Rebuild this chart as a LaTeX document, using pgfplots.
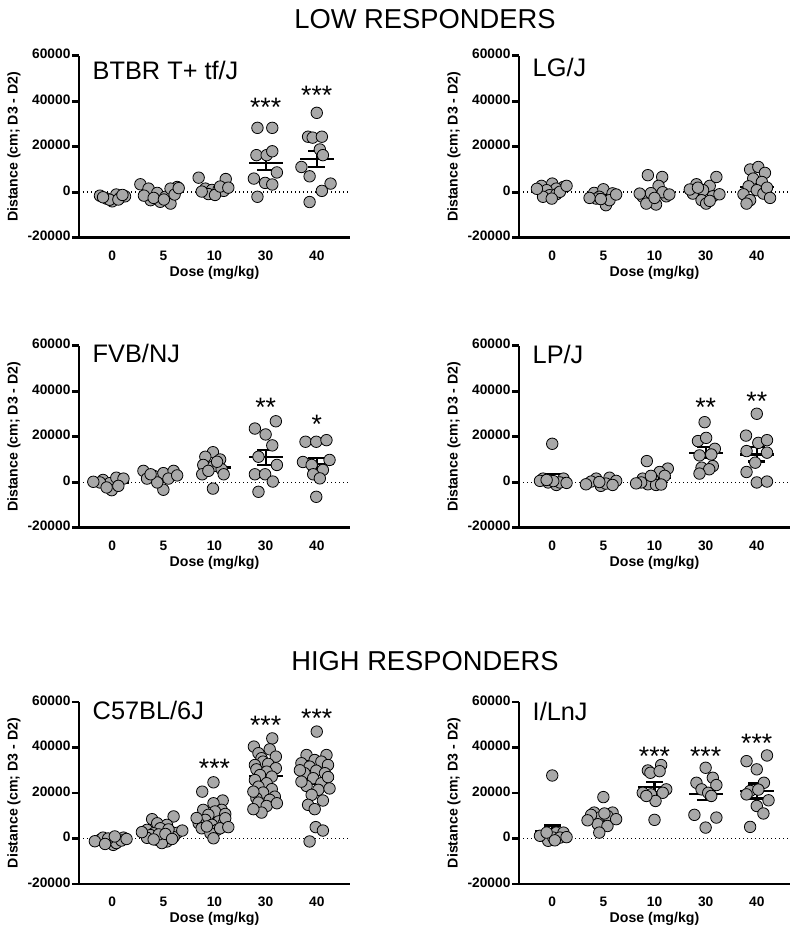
\documentclass[border=0pt]{standalone}
\usepackage{pgfplots}
\usepackage{pgfplotstable}
\pgfplotsset{compat=1.18}
\usepackage{fontspec}
\setmainfont{Liberation Sans}
\definecolor{ptgray}{RGB}{168,168,168}
\pgfplotsset{
  panel/.style={
    scale only axis, width=203.25pt, height=136.5pt,
    xmin=-0.65, xmax=4.65, ymin=-20000, ymax=60000,
    axis x line*=bottom, axis y line*=left,
    axis line style={line width=2pt},
    scaled y ticks=false,
    xtick={0,1,2,3,4}, xticklabels={0,5,10,30,40},
    ytick={-20000,0,20000,40000,60000}, yticklabels={-20000,0,20000,40000,60000},
    major tick length=5.25pt, tick align=outside,
    y tick style={line width=2pt, black},
    x tick style={draw=none},
    typeset ticklabels with strut,
    xticklabel style={font=\fontsize{10.3}{12}\selectfont\bfseries},
    yticklabel style={font=\fontsize{10.3}{12}\selectfont\bfseries, inner sep=1pt},
    ylabel={Distance (cm; D3 - D2)},
    label style={font=\fontsize{10.6}{12}\selectfont\bfseries},
    ylabel style={at={(axis description cs:-0.24,0.5)}, anchor=center},
    clip=false,
  },
  pts/.style={only marks, mark=*, mark size=4.3pt, mark options={fill=ptgray, draw=black, line width=0.6pt}},
  ebar/.style={draw=none, mark=none, error bars/error mark=none,
    error bars/error bar style={line width=1.6pt, draw=black, solid}},
  zline/.style={black, line width=1.1pt, dash pattern=on 1.1pt off 1.9pt, forget plot},
}
\tikzset{
  stars/.style={font=\fontsize{20}{20}\selectfont, anchor=center, yshift=-4pt},
  strain/.style={font=\fontsize{19}{19}\selectfont, anchor=base west},
  dose/.style={font=\fontsize{10.6}{12}\selectfont\bfseries, anchor=center},
}
\newcommand{\msem}[1]{%
  \addplot[ebar, error bars/x dir=both, error bars/x fixed=0.33] table[x=x,y=y] {#1};
  \addplot[ebar, error bars/y dir=both, error bars/y explicit] table[x=x,y=y,y error=e] {#1};
  \addplot[ebar, error bars/x dir=both, error bars/x fixed=0.165] table[x=x,y expr=\thisrow{y}+\thisrow{e}] {#1};
  \addplot[ebar, error bars/x dir=both, error bars/x fixed=0.165] table[x=x,y expr=\thisrow{y}-\thisrow{e}] {#1};
  \node[dose] at (rel axis cs:0.5,-0.194) {Dose (mg/kg)};
}
\pgfplotstableread[row sep=\\]{x y e\\ 0 -1800 500\\ 1 -900 800\\ 2 2000 700\\ 3 12900 3200\\ 4 14700 3600\\}\msA
\pgfplotstableread[row sep=\\]{x y e\\ 0 600 600\\ 1 -2000 650\\ 2 -700 1100\\ 3 600 900\\ 4 2300 1600\\}\msB
\pgfplotstableread[row sep=\\]{x y e\\ 0 -100 600\\ 1 1900 800\\ 2 6500 1300\\ 3 11000 3300\\ 4 8200 2600\\}\msC
\pgfplotstableread[row sep=\\]{x y e\\ 0 2000 1700\\ 1 0 400\\ 2 2000 900\\ 3 13000 2500\\ 4 12200 3100\\}\msD
\pgfplotstableread[row sep=\\]{x y e\\ 0 -600 300\\ 1 2600 600\\ 2 8600 1200\\ 3 27300 1500\\ 4 26200 2000\\}\msE
\pgfplotstableread[row sep=\\]{x y e\\ 0 3400 2300\\ 1 9500 1200\\ 2 22600 2300\\ 3 19400 2500\\ 4 20900 3300\\}\msF
\begin{document}
\begin{tikzpicture}
\useasboundingbox (0,0) rectangle (600pt,-702.75pt);
\node[font=\fontsize{20.5}{20}\selectfont, anchor=base] at (318.75pt,-21.2pt) {LOW RESPONDERS};
\node[font=\fontsize{20.5}{20}\selectfont, anchor=base] at (318.75pt,-502.5pt) {HIGH RESPONDERS};

% Panel 1: BTBR
\begin{axis}[panel, at={(59.25pt,-178.3pt)}, anchor=south west]
\addplot[zline] coordinates {(-0.65,0) (4.65,0)};
\addplot[pts] table[row sep=\\] {
x y\\
-0.24 -1500\\ -0.11 -2800\\ 0 -4000\\ 0.08 -1000\\ 0.15 -2500\\ 0.25 -1800\\ -0.05 -3300\\ 0.12 -3200\\ 0.2 -1200\\ -0.18 -2200\\
0.55 3500\\ 0.71 1600\\ 0.88 -300\\ 1.04 -2000\\ 1.14 -5000\\ 0.75 -3500\\ 1.27 2300\\ 1.14 1600\\ 0.94 -4200\\ 0.62 -1500\\ 0.81 -2500\\ 1.01 -3200\\ 1.22 -1000\\ 1.3 1800\\
1.69 6400\\ 2.22 5800\\ 1.82 1600\\ 1.95 1000\\ 2.08 1200\\ 2.18 600\\ 1.88 -800\\ 2.01 -1200\\ 1.75 300\\ 2.11 2500\\ 2.27 2000\\
2.84 28300\\ 3.13 28300\\ 2.82 16300\\ 3.02 16300\\ 3.13 18000\\ 2.77 6000\\ 2.99 4100\\ 3.13 3400\\ 3.22 8700\\ 2.84 -2000\\
4 34900\\ 3.83 24400\\ 3.92 24000\\ 4.1 24400\\ 4.06 18800\\ 4.12 16300\\ 3.7 11100\\ 3.86 7000\\ 4.27 3800\\ 4.1 600\\ 3.86 -4300\\
};
\msem{\msA}
\node[strain] at (axis cs:-0.474,49500) {BTBR T+ tf/J};
\node[stars] at (axis cs:3,39750) {***};
\node[stars] at (axis cs:4,44900) {***};
\end{axis}

% Panel 2: LG/J
\begin{axis}[panel, at={(389.25pt,-178.3pt)}, anchor=south west]
\addplot[zline] coordinates {(-0.65,0) (4.65,0)};
\addplot[pts] table[row sep=\\] {
x y\\
-0.21 2800\\ 0 3800\\ 0.22 2300\\ 0.08 1600\\ -0.11 900\\ -0.05 -1300\\ -0.18 -2000\\ 0.08 -900\\ 0.15 200\\ -0.3 1500\\ -0.01 -2800\\ 0.28 2800\\
0.82 -300\\ 1 1300\\ 1.18 -500\\ 0.92 -2000\\ 1.05 -5700\\ 1.12 -3500\\ 0.86 -2800\\ 1.25 -1000\\ 0.73 -2500\\ 0.95 -3000\\
1.87 7500\\ 2.15 6700\\ 2.08 2800\\ 1.77 -2000\\ 1.97 -3500\\ 2.03 -5400\\ 1.84 -5000\\ 2.23 -1800\\ 2.16 0\\ 1.93 -400\\ 1.71 -600\\ 2.29 -1000\\ 2 -2500\\
2.82 3500\\ 3.08 2800\\ 3.21 6700\\ 2.95 900\\ 2.75 -600\\ 3.14 -1800\\ 2.92 -3500\\ 3.01 -5000\\ 3.27 -900\\ 2.69 1200\\ 3.08 -3800\\ 2.85 2000\\
3.87 10000\\ 4.03 11100\\ 4.16 8500\\ 3.93 6000\\ 4.1 4500\\ 3.84 2600\\ 4 900\\ 3.74 -900\\ 3.87 -3500\\ 3.8 -5000\\ 4.13 -600\\ 4.2 2000\\ 4.26 -2500\\
};
\msem{\msB}
\node[strain] at (axis cs:-0.474,50700) {LG/J};
\end{axis}

% Panel 3: FVB/NJ
\begin{axis}[panel, at={(59.25pt,-395.8pt)}, anchor=south west]
\addplot[zline] coordinates {(-0.65,0) (4.65,0)};
\addplot[pts] table[row sep=\\] {
x y\\
-0.18 1000\\ -0.05 -400\\ 0.08 2000\\ 0.22 1600\\ -0.01 -3500\\ -0.24 -100\\ -0.11 -2300\\ 0.12 -1600\\ -0.37 200\\
0.61 5000\\ 0.81 2800\\ 1 4000\\ 1.2 5000\\ 1 -3300\\ 0.68 1600\\ 0.88 -100\\ 1.1 1600\\ 0.75 3500\\ 1.27 3000\\
1.97 13200\\ 1.82 11200\\ 2.11 10000\\ 1.78 7600\\ 1.98 7100\\ 2.14 5700\\ 1.76 3500\\ 2.18 3500\\ 1.97 -2800\\ 2.05 9000\\ 1.88 5000\\
3.2 26800\\ 2.79 23600\\ 3 21000\\ 3.13 16200\\ 2.86 11200\\ 3.22 7600\\ 2.79 3500\\ 2.99 3500\\ 3.14 300\\ 2.86 -4200\\
3.78 17800\\ 3.99 17800\\ 4.19 18500\\ 3.73 8900\\ 4.25 9800\\ 3.9 7600\\ 4.12 5400\\ 3.93 3500\\ 4.06 1700\\ 3.99 -6400\\
};
\msem{\msC}
\node[strain] at (axis cs:-0.474,52600) {FVB/NJ};
\node[stars] at (axis cs:3,35100) {**};
\node[stars] at (axis cs:4,27800) {*};
\end{axis}

% Panel 4: LP/J
\begin{axis}[panel, at={(389.25pt,-395.8pt)}, anchor=south west]
\addplot[zline] coordinates {(-0.65,0) (4.65,0)};
\addplot[pts] table[row sep=\\] {
x y\\
0 16900\\ -0.18 1600\\ 0.22 1600\\ -0.08 -100\\ 0.08 -1200\\ -0.24 600\\ 0.15 -100\\ 0.02 500\\ 0.28 -300\\ -0.11 1000\\
0.86 1600\\ 1.12 2000\\ 1.25 600\\ 0.95 -1600\\ 0.76 300\\ 1.05 -600\\ 0.92 100\\ 1.18 -1200\\ 0.66 -900\\
1.85 9300\\ 2.26 6000\\ 2.1 4500\\ 1.77 1600\\ 1.97 1300\\ 1.87 -900\\ 2.03 -1200\\ 2.2 2800\\ 1.74 -100\\ 1.93 2800\\ 2.13 -1000\\ 1.64 -500\\
2.98 26400\\ 2.85 18100\\ 3.01 19500\\ 3.18 14700\\ 2.88 11800\\ 3.11 12200\\ 3.14 7100\\ 2.92 6400\\ 3.07 5700\\ 2.88 3800\\
4 30100\\ 3.79 20500\\ 4.03 17300\\ 4.2 18500\\ 3.8 13700\\ 4.2 13000\\ 3.97 8600\\ 3.8 4500\\ 4 -100\\ 4.2 300\\
};
\msem{\msD}
\node[strain] at (axis cs:-0.474,52300) {LP/J};
\node[stars] at (axis cs:3,35100) {**};
\node[stars] at (axis cs:4,38000) {**};
\end{axis}

% Panel 5: C57BL/6J
\begin{axis}[panel, at={(59.25pt,-663pt)}, anchor=south west]
\addplot[zline] coordinates {(-0.65,0) (4.65,0)};
\addplot[pts] table[row sep=\\] {
x y\\
-0.24 -600\\ -0.11 -1800\\ 0.02 -2800\\ 0.12 -300\\ 0.22 400\\ -0.18 400\\ -0.01 -600\\ 0.08 -2000\\ 0.18 -900\\ -0.08 0\\ 0.05 900\\ -0.34 -1200\\ 0.28 -200\\ -0.14 -2400\\
0.78 8500\\ 1.2 9700\\ 0.88 6700\\ 1.07 6000\\ 0.68 3800\\ 0.94 4500\\ 1.14 3100\\ 0.81 2300\\ 1.01 900\\ 0.88 -600\\ 1.07 -1300\\ 0.97 -2000\\ 0.75 1500\\ 1.27 2500\\ 1.2 600\\ 0.68 300\\ 0.91 1800\\ 1.1 4000\\ 1.04 2000\\ 0.58 2800\\ 1.37 3500\\ 0.81 -400\\ 1.17 -200\\
1.98 24700\\ 1.76 20600\\ 2.16 16700\\ 1.98 15500\\ 2.14 12600\\ 1.78 12600\\ 2.01 11900\\ 1.88 10400\\ 2.21 10800\\ 1.82 8200\\ 2.08 7500\\ 1.69 6700\\ 1.95 6000\\ 2.18 6700\\ 1.75 4500\\ 2.05 3800\\ 1.92 2300\\ 1.98 100\\ 2.11 4500\\ 1.85 5300\\ 2.21 8900\\ 2.27 5000\\ 1.65 9000\\
3.13 44000\\ 2.77 40400\\ 3.08 39200\\ 2.86 37500\\ 2.92 35300\\ 3.2 36000\\ 2.95 33800\\ 2.79 32300\\ 3.05 32800\\ 3.2 30900\\ 2.82 30400\\ 3.02 29400\\ 2.89 27900\\ 3.12 27200\\ 2.79 25700\\ 3.02 24300\\ 2.86 22800\\ 3.12 21700\\ 2.95 20200\\ 3.18 18400\\ 2.82 17700\\ 3.08 17000\\ 2.86 15800\\ 3.02 14300\\ 2.92 11400\\ 2.76 12900\\ 3.22 15500\\ 2.76 20600\\
4 47000\\ 3.8 36700\\ 4.19 36700\\ 3.96 34500\\ 3.7 33100\\ 4.09 33800\\ 3.86 31600\\ 4.22 32300\\ 3.99 29800\\ 3.76 28700\\ 4.16 28700\\ 3.93 26500\\ 4.09 24300\\ 3.8 23100\\ 4.03 21400\\ 3.9 19200\\ 4.12 16700\\ 3.83 14800\\ 3.96 12900\\ 3.98 5000\\ 4.12 3500\\ 3.86 -1300\\ 4.22 27000\\ 3.7 25000\\ 4.25 22000\\ 3.67 30000\\
};
\msem{\msE}
\node[strain] at (axis cs:-0.474,52400) {C57BL/6J};
\node[stars] at (axis cs:2,33000) {***};
\node[stars] at (axis cs:3,52000) {***};
\node[stars] at (axis cs:4,55000) {***};
\end{axis}

% Panel 6: I/LnJ
\begin{axis}[panel, at={(389.25pt,-663pt)}, anchor=south west]
\addplot[zline] coordinates {(-0.65,0) (4.65,0)};
\addplot[pts] table[row sep=\\] {
x y\\
0 27700\\ -0.18 1200\\ 0.08 2600\\ 0.22 2600\\ -0.08 -1000\\ -0.24 1200\\ 0.02 400\\ 0.15 400\\ -0.11 2600\\ 0.05 -800\\ 0.28 600\\
1 18200\\ 0.82 11400\\ 1.18 11400\\ 0.92 9200\\ 1.08 9900\\ 0.89 6300\\ 1.08 5500\\ 0.92 2600\\ 0.76 10400\\ 1.25 8500\\ 1.02 11000\\ 0.69 8000\\
2.13 32300\\ 1.87 29900\\ 1.92 28900\\ 2.1 29600\\ 1.77 20100\\ 2.23 21600\\ 1.93 19400\\ 2.16 20100\\ 2.02 16500\\ 1.84 18700\\ 2 8200\\
3 31100\\ 2.82 24500\\ 3.14 26700\\ 3.21 23500\\ 2.92 21600\\ 3.05 20100\\ 3.11 18700\\ 2.78 10400\\ 3.21 9200\\ 3 4800\\
4.2 36500\\ 3.8 34000\\ 4 30400\\ 4.14 24500\\ 3.87 20900\\ 4.03 21500\\ 3.8 19400\\ 4.23 16800\\ 4 14300\\ 4.13 11000\\ 3.87 5100\\
};
\msem{\msF}
\node[strain] at (axis cs:-0.474,51800) {I/LnJ};
\node[stars] at (axis cs:2,38400) {***};
\node[stars] at (axis cs:3,38400) {***};
\node[stars] at (axis cs:4,44200) {***};
\end{axis}
\end{tikzpicture}
\end{document}
